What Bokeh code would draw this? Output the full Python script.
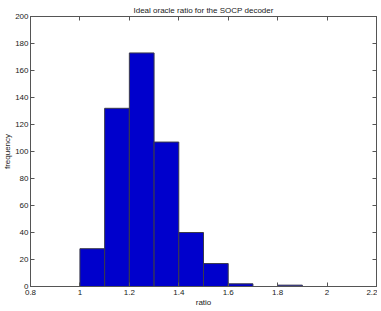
from bokeh.plotting import figure
from bokeh.models import LinearAxis, FixedTicker, Range1d, CustomJSTickFormatter
from bokeh.embed import file_html
from bokeh.resources import INLINE

bin_left = [1.0, 1.1, 1.2, 1.3, 1.4, 1.5, 1.6, 1.7, 1.8]
bin_right = [1.1, 1.2, 1.3, 1.4, 1.5, 1.6, 1.7, 1.8, 1.9]
counts = [28, 132, 173, 107, 40, 17, 2, 0, 1]
x_ticks = [0.8, 1.0, 1.2, 1.4, 1.6, 1.8, 2.0, 2.2]
x_tick_labels = {0.8: "0.8", 1.0: "1", 1.2: "1.2", 1.4: "1.4", 1.6: "1.6", 1.8: "1.8", 2.0: "2", 2.2: "2.2"}
y_ticks = list(range(0, 201, 20))

FONT = "Liberation Sans"
FS = "8px"
AX = "#555555"

p = figure(width=377, height=309, output_backend="svg", toolbar_location=None,
           x_range=Range1d(0.8, 2.2), y_range=Range1d(0, 200),
           title="Ideal oracle ratio for the SOCP decoder",
           x_axis_label="ratio", y_axis_label="frequency",
           min_border_left=0, min_border_right=1, min_border_top=16, min_border_bottom=0)
p.grid.visible = False
p.outline_line_color = AX
p.background_fill_color = "white"
p.border_fill_color = "white"

p.title.align = "center"
p.title.text_font = FONT
p.title.text_font_size = FS
p.title.text_font_style = "normal"
p.title.text_color = "#222222"
p.title.standoff = 3
p.title.offset = 0

p.quad(left=bin_left, right=bin_right, bottom=0, top=counts,
       fill_color="#0000cc", line_color="#3a3a4a", line_width=1)

def style(ax, ticks, labels=True):
    ax.ticker = FixedTicker(ticks=ticks)
    ax.axis_line_color = AX
    ax.major_tick_line_color = AX
    ax.major_tick_in = 4
    ax.major_tick_out = 0
    ax.minor_tick_line_color = None
    ax.major_label_text_font = FONT
    ax.major_label_text_font_size = FS
    ax.major_label_text_color = "#222222"
    ax.axis_label_text_font = FONT
    ax.axis_label_text_font_size = FS
    ax.axis_label_text_font_style = "normal"
    ax.axis_label_text_color = "#222222"
    ax.major_label_standoff = 2
    ax.axis_label_standoff = 0
    if not labels:
        ax.major_label_text_font_size = "0px"
        ax.major_label_standoff = 0
        ax.axis_label_standoff = 0

for ax in p.xaxis:
    style(ax, x_ticks)
    ax.major_label_overrides = {k: v for k, v in x_tick_labels.items()}
    ax.major_label_standoff = 3
for ax in p.yaxis:
    style(ax, y_ticks)

top = LinearAxis()
style(top, x_ticks, labels=False)
top.formatter = CustomJSTickFormatter(code="return ''")
p.add_layout(top, "above")
right = LinearAxis()
style(right, y_ticks, labels=False)
right.formatter = CustomJSTickFormatter(code="return ''")
p.add_layout(right, "right")

open("out.html", "w").write(file_html(p, INLINE))
